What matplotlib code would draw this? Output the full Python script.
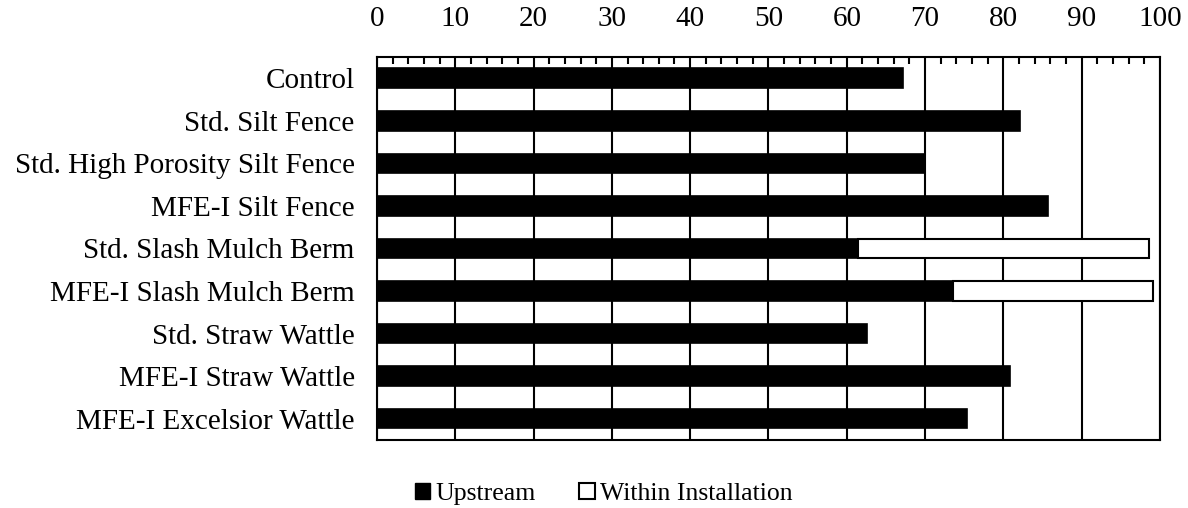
import matplotlib.pyplot as plt
from matplotlib.ticker import MultipleLocator
from matplotlib.patches import Patch

plt.rcParams['font.family'] = ['Liberation Serif', 'DejaVu Serif']

categories = ["Control", "Std. Silt Fence", "Std. High Porosity Silt Fence",
              "MFE-I Silt Fence", "Std. Slash Mulch Berm", "MFE-I Slash Mulch Berm",
              "Std. Straw Wattle", "MFE-I Straw Wattle", "MFE-I Excelsior Wattle"]
upstream = [67.2, 82.1, 70.0, 85.7, 61.4, 73.6, 62.6, 80.9, 75.4]
within = [0, 0, 0, 0, 37.2, 25.5, 0, 0, 0]

fig = plt.figure(figsize=(11.88, 5.08), dpi=100)
ax = fig.add_axes([0.3173, 0.1339, 0.6591, 0.7539])

y = list(range(len(categories)))
ax.barh(y, upstream, height=0.46, color='black', edgecolor='black', linewidth=1.2, zorder=2)
for i in y:
    if within[i] > 0:
        ax.barh(i, within[i], left=upstream[i], height=0.46, color='white',
                edgecolor='black', linewidth=1.5, zorder=2)

ax.set_xlim(0, 100)
ax.set_ylim(len(categories) - 0.5, -0.5)
ax.set_yticks(y)
ax.set_yticklabels(categories, fontsize=21)

ax.xaxis.tick_top()
ax.xaxis.set_major_locator(MultipleLocator(10))
ax.xaxis.set_minor_locator(MultipleLocator(2))
ax.tick_params(axis='x', which='major', labelsize=21, length=0, pad=18)
ax.tick_params(axis='x', which='minor', direction='in', length=5, width=1.5, top=True, bottom=False)
ax.tick_params(axis='y', length=0, pad=16)

ax.grid(axis='x', which='major', color='black', linewidth=1.5)
ax.set_axisbelow(True)
for s in ax.spines.values():
    s.set_linewidth(1.5)

handles = [Patch(facecolor='black', edgecolor='black', label='Upstream'),
           Patch(facecolor='white', edgecolor='black', linewidth=1.5, label='Within Installation')]
fig.legend(handles=handles, loc='center', bbox_to_anchor=(0.508, 0.028), ncol=2,
           frameon=False, fontsize=18.5, handlelength=0.6, handleheight=0.6,
           handletextpad=0.2, columnspacing=1.7)

fig.savefig("out.png", dpi=100)
